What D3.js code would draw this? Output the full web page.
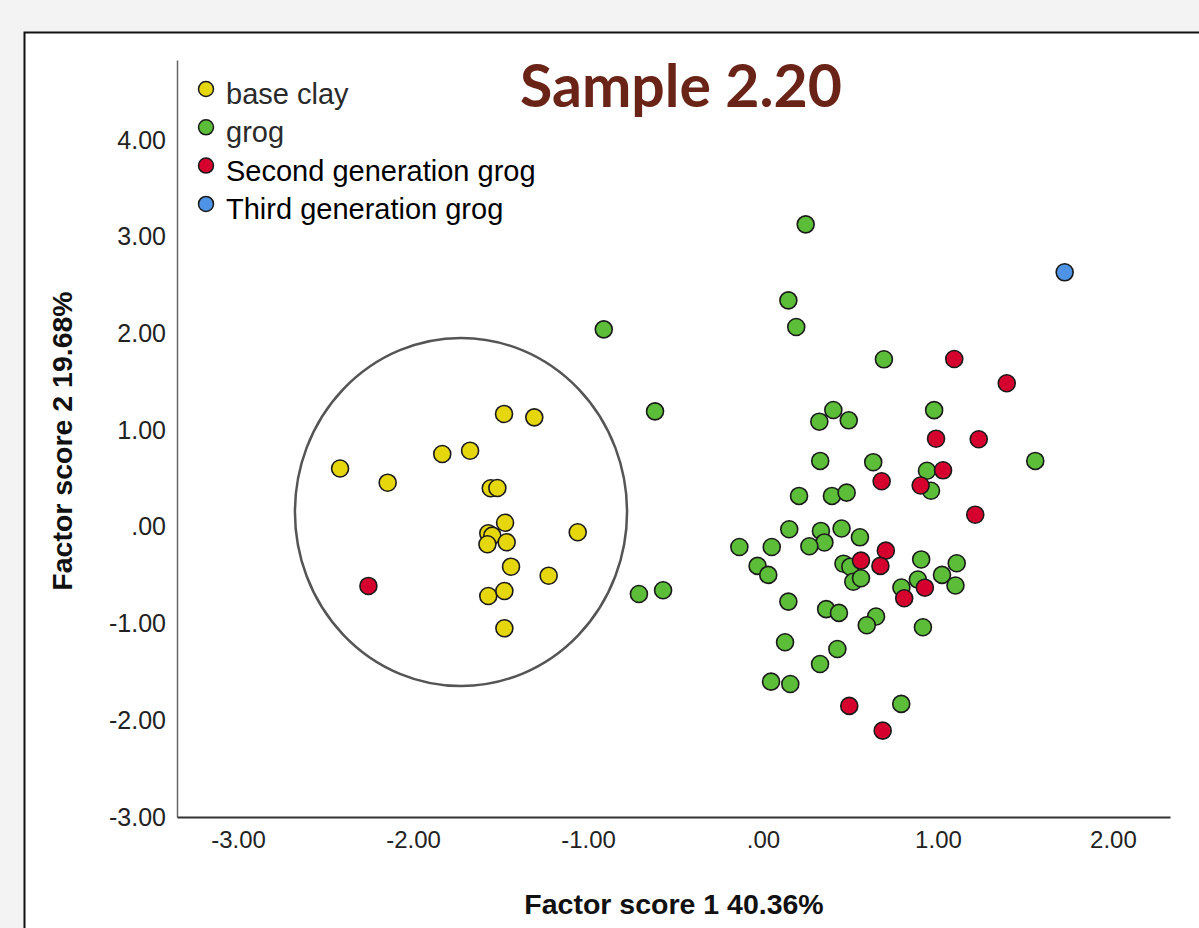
<!DOCTYPE html>
<html>
<head>
<meta charset="utf-8">
<script src="https://cdn.jsdelivr.net/npm/d3@7"></script>
<style>
  html, body { margin: 0; padding: 0; background: #f3f3f3; }
  svg { display: block; }
</style>
</head>
<body>
<svg id="chart" width="1199" height="928"></svg>
<script>
// ---- data (Factor score 1, Factor score 2) ----
const categories = ["base clay", "grog", "Second generation grog", "Third generation grog"];
const categoryColors = ["#e6d70c", "#5cbd38", "#d5002e", "#4f93e6"];

const baseClayX = [-2.417, -2.145, -1.833, -1.674, -1.480, -1.307, -1.556, -1.518, -1.474, -1.570, -1.547, -1.575, -1.465, -1.059, -1.440, -1.225, -1.570, -1.478, -1.478];
const baseClayY = [0.605, 0.458, 0.755, 0.789, 1.169, 1.134, 0.400, 0.403, 0.044, -0.065, -0.090, -0.179, -0.158, -0.055, -0.411, -0.504, -0.714, -0.662, -1.048];

const grogX = [0.244, 0.145, 0.190, -0.910, -0.617, 0.691, 0.402, 0.322, 0.490, 0.978, 1.556, 0.327, 0.630, 0.937, 0.960, 0.206, 0.394, 0.478, 0.150, 0.331, 0.351, 0.265, 0.449, 0.554, -0.135, 0.050, -0.031, 0.030, 0.460, 0.499, 0.516, 0.560, 0.904, 1.107, 1.023, 1.100, 0.791, 0.885, 0.145, 0.361, 0.434, 0.646, 0.593, 0.914, 0.126, 0.425, 0.326, 0.046, 0.156, 0.790, -0.709, -0.571];
const grogY = [3.130, 2.344, 2.068, 2.044, 1.196, 1.734, 1.210, 1.089, 1.103, 1.208, 0.683, 0.683, 0.670, 0.581, 0.375, 0.321, 0.321, 0.355, -0.024, -0.041, -0.160, -0.200, -0.016, -0.107, -0.207, -0.207, -0.403, -0.496, -0.380, -0.411, -0.566, -0.531, -0.336, -0.375, -0.496, -0.605, -0.626, -0.544, -0.772, -0.850, -0.889, -0.926, -1.017, -1.037, -1.192, -1.262, -1.417, -1.600, -1.624, -1.830, -0.693, -0.655];

const secondGenX = [-2.255, 1.093, 1.393, 0.989, 1.233, 1.029, 0.678, 0.901, 1.213, 0.560, 0.702, 0.671, 0.925, 0.807, 0.493, 0.684];
const secondGenY = [-0.610, 1.737, 1.486, 0.913, 0.907, 0.586, 0.473, 0.429, 0.127, -0.348, -0.245, -0.403, -0.628, -0.737, -1.851, -2.107];

const thirdGenX = [1.724];
const thirdGenY = [2.634];

const xTicks = [-3, -2, -1, 0, 1, 2];
const yTicks = [-3, -2, -1, 0, 1, 2, 3, 4];

// highlight ellipse around the base clay cluster (data units)
const ellipseCenter = [-1.726, 0.155];
const ellipseRadii = [0.949, 1.80];

const titleText = "Sample 2.20";
const xTitle = "Factor score 1 40.36%";
const yTitle = "Factor score 2 19.68%";

// ---- drawing ----
const svg = d3.select("#chart");

// frame
svg.append("rect").attr("x", 24.5).attr("y", 32.5).attr("width", 1220).attr("height", 950)
  .attr("fill", "#ffffff").attr("stroke", "#111").attr("stroke-width", 2);

const x = d3.scaleLinear().domain([-3.349, 2.326]).range([177, 1170]);
const y = d3.scaleLinear().domain([-3, 4.83]).range([817, 60]);

const fmt = d => d === 0 ? ".00" : (d < 0 ? "-" : "") + Math.abs(d).toFixed(2);

const yAxis = svg.append("g").attr("transform", "translate(177,0)")
  .call(d3.axisLeft(y).tickValues(yTicks).tickFormat(fmt).tickSize(0).tickPadding(11));
yAxis.select(".domain").attr("stroke", "#666").attr("stroke-width", 1.5);
yAxis.selectAll("text").attr("font-family", "Liberation Sans, Arial, sans-serif")
  .attr("font-size", 25).attr("fill", "#222");

const xAxis = svg.append("g").attr("transform", "translate(0,817)")
  .call(d3.axisBottom(x).tickValues(xTicks).tickFormat(fmt).tickSize(0).tickPadding(14));
xAxis.select(".domain").attr("stroke", "#333").attr("stroke-width", 2.2);
xAxis.selectAll("text").attr("font-family", "Liberation Sans, Arial, sans-serif")
  .attr("font-size", 24).attr("fill", "#222");

// axis titles
svg.append("text").attr("x", 674).attr("y", 914).attr("text-anchor", "middle")
  .attr("font-family", "Liberation Sans, Arial, sans-serif").attr("font-weight", "bold")
  .attr("font-size", 28.5).attr("fill", "#111").text(xTitle);
svg.append("text").attr("transform", "translate(72,441) rotate(-90)").attr("text-anchor", "middle")
  .attr("font-family", "Liberation Sans, Arial, sans-serif").attr("font-weight", "bold")
  .attr("font-size", 28.5).attr("fill", "#111").text(yTitle);

// ellipse
svg.append("ellipse")
  .attr("cx", x(ellipseCenter[0])).attr("cy", y(ellipseCenter[1]))
  .attr("rx", x(ellipseCenter[0] + ellipseRadii[0]) - x(ellipseCenter[0]))
  .attr("ry", y(ellipseCenter[1]) - y(ellipseCenter[1] + ellipseRadii[1]))
  .attr("fill", "none").attr("stroke", "#555").attr("stroke-width", 2.5);

// points
const seriesX = [baseClayX, grogX, secondGenX, thirdGenX];
const seriesY = [baseClayY, grogY, secondGenY, thirdGenY];
seriesX.forEach((xs, i) => {
  const pts = xs.map((v, j) => [v, seriesY[i][j]]);
  svg.append("g").selectAll("circle").data(pts).join("circle")
    .attr("cx", d => x(d[0])).attr("cy", d => y(d[1])).attr("r", 8.5)
    .attr("fill", categoryColors[i]).attr("stroke", "#1a1a1a").attr("stroke-width", 1.6);
});

// legend
const lg = svg.append("g");
categories.forEach((c, i) => {
  const base = 104 + i * 38.3;
  lg.append("circle").attr("cx", 206).attr("cy", base - 15).attr("r", 7.5)
    .attr("fill", categoryColors[i]).attr("stroke", "#1a1a1a").attr("stroke-width", 1.5);
  lg.append("text").attr("x", 226).attr("y", base)
    .attr("font-family", "Liberation Sans, Arial, sans-serif").attr("font-size", 29)
    .attr("fill", i < 2 ? "#2a2a2a" : "#000").text(c);
});

// title
const t = svg.append("text").attr("x", 681).attr("y", 107).attr("text-anchor", "middle")
  .attr("font-family", "Lato, 'Open Sans', sans-serif").attr("font-weight", "bold")
  .attr("font-size", 50).attr("fill", "#6a2417").text(titleText);
const w = t.node().getComputedTextLength();
t.attr("font-size", 50 * 322 / w);
</script>
</body>
</html>
